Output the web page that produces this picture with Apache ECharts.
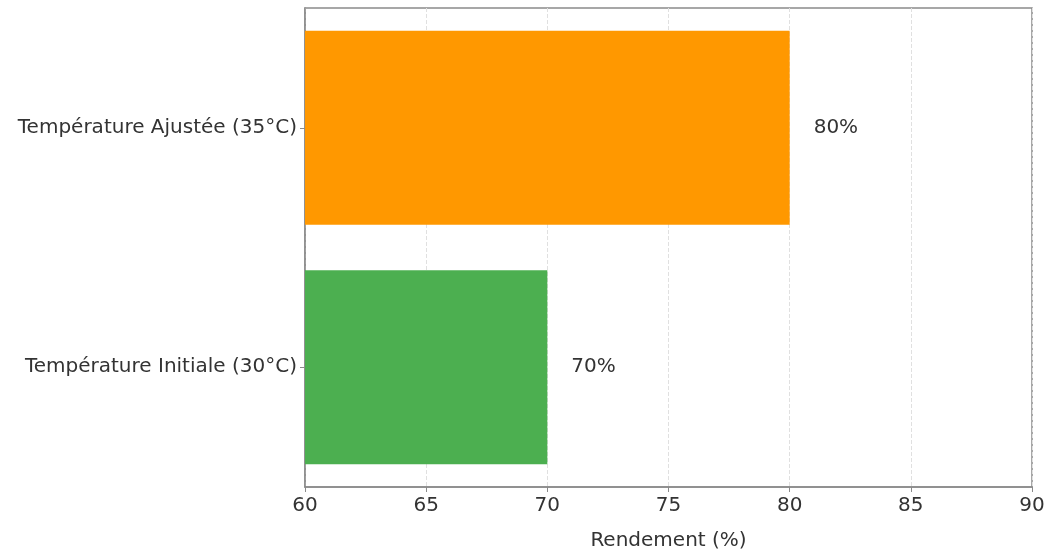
<!DOCTYPE html>
<html>
<head>
<meta charset="utf-8">
<script src="https://cdn.jsdelivr.net/npm/echarts@6/dist/echarts.min.js"></script>
<style>html,body{margin:0;padding:0;background:#fff}#c{width:1048px;height:556px}</style>
</head>
<body>
<div id="c"></div>
<script>
const categories = ['Température Initiale (30°C)', 'Température Ajustée (35°C)'];
const values = [70, 80];
const colors = ['#4CAF50', '#FF9800'];
const xTicks = { min: 60, max: 90, interval: 5 };
const axisName = 'Rendement (%)';

const chart = echarts.init(document.getElementById('c'));
const font = '"DejaVu Sans", sans-serif';
chart.setOption({
  animation: false,
  grid: { left: 305, right: 16, top: 8, bottom: 62, show: true, borderColor: '#8a8a8a', borderWidth: 1.5, backgroundColor: 'transparent' },
  xAxis: {
    type: 'value', min: xTicks.min, max: xTicks.max, interval: xTicks.interval,
    name: axisName, nameLocation: 'middle', nameGap: 44,
    nameTextStyle: { fontFamily: font, fontSize: 20, color: '#333' },
    axisLine: { show: true, lineStyle: { color: '#8a8a8a', width: 1.5 } },
    axisTick: { show: true, length: 5, lineStyle: { color: '#8a8a8a' } },
    axisLabel: { fontFamily: font, fontSize: 20, color: '#333', margin: 9 },
    splitLine: { show: true, lineStyle: { type: 'dashed', color: '#e0e0e0', width: 1 } }
  },
  yAxis: {
    type: 'category', data: categories,
    axisLine: { show: true, lineStyle: { color: '#8a8a8a', width: 1.5 } },
    axisTick: { show: true, length: 5, alignWithLabel: true, lineStyle: { color: '#8a8a8a' } },
    axisLabel: { fontFamily: font, fontSize: 20, color: '#333', margin: 8 }
  },
  series: [{
    type: 'bar',
    barCategoryGap: '19%',
    data: values.map((v, i) => ({ value: v, itemStyle: { color: colors[i] } })),
    label: { show: true, position: 'right', distance: 24, formatter: p => p.value + '%', fontFamily: font, fontSize: 20, color: '#333' }
  }]
});
</script>
</body>
</html>
